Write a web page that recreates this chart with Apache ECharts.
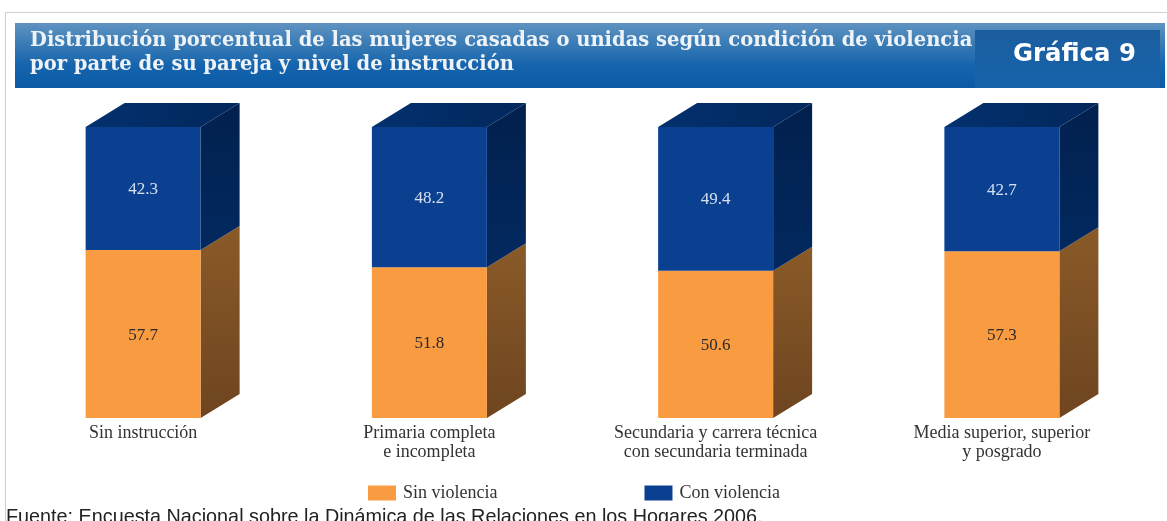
<!DOCTYPE html>
<html>
<head>
<meta charset="utf-8">
<style>html,body{margin:0;padding:0;background:#fff;overflow:hidden}#c{width:1167px;height:521px}</style>
<script src="https://cdn.jsdelivr.net/npm/echarts@6/dist/echarts.min.js"></script>
</head>
<body>
<div id="c"></div>
<script>
const categories = ['Sin instrucción', 'Primaria completa\ne incompleta', 'Secundaria y carrera técnica\ncon secundaria terminada', 'Media superior, superior\ny posgrado'];
const sinViolencia = [57.7, 51.8, 50.6, 57.3];
const conViolencia = [42.3, 48.2, 49.4, 42.7];
const titleText = 'Distribución porcentual de las mujeres casadas o unidas según condición de violencia\npor parte de su pareja y nivel de instrucción';
const badgeText = 'Gráfica 9';
const sourceText = 'Fuente: Encuesta Nacional sobre la Dinámica de las Relaciones en los Hogares 2006.';

const DX = 39, DY = -24, BAR_W = 115;
const SERIF = '"Liberation Serif", serif';

function grad(x1, y1, x2, y2, a, b) {
  return new echarts.graphic.LinearGradient(x1, y1, x2, y2, [{offset: 0, color: a}, {offset: 1, color: b}]);
}
function box(baseOf, front, side, top, labelColor) {
  return function (params, api) {
    const i = api.value(0), v = api.value(1), base = baseOf[i];
    const p0 = api.coord([i, base]), p1 = api.coord([i, base + v]);
    const x = p0[0] - BAR_W / 2, w = BAR_W, yB = p0[1], yT = p1[1];
    const children = [
      {type: 'polygon', shape: {points: [[x + w, yB], [x + w + DX, yB + DY], [x + w + DX, yT + DY], [x + w, yT]]}, style: {fill: side}},
      {type: 'rect', shape: {x, y: yT, width: w, height: yB - yT}, style: {fill: front}},
      {type: 'text', style: {x: x + w / 2, y: (yT + yB) / 2 + 1, text: v.toFixed(1), fill: labelColor, font: '17px ' + SERIF, align: 'center', verticalAlign: 'middle'}}
    ];
    if (top) children.push({type: 'polygon', shape: {points: [[x, yT], [x + DX, yT + DY], [x + w + DX, yT + DY], [x + w, yT]]}, style: {fill: top}});
    return {type: 'group', children};
  };
}

const zeros = categories.map(() => 0);
const chart = echarts.init(document.getElementById('c'), null, {renderer: 'canvas'});
chart.setOption({
  animation: false,
  backgroundColor: '#fff',
  title: [
    {text: titleText, left: 25, top: 24, textStyle: {fontFamily: '"DejaVu Serif", serif', fontWeight: 'bold', fontSize: 19.52, lineHeight: 24, color: '#eef3f8'}},
    {text: badgeText, left: 1008, top: 38, textStyle: {fontFamily: '"DejaVu Sans", sans-serif', fontWeight: 'bold', fontSize: 24.4, color: '#ffffff'}},
    {text: sourceText, left: 1, top: 503, textStyle: {fontFamily: '"Liberation Sans", sans-serif', fontWeight: 'normal', fontSize: 19.8, color: '#222222'}}
  ],
  legend: {
    left: 363, top: 479, itemWidth: 28, itemHeight: 15, itemGap: 147,
    icon: 'rect', selectedMode: false,
    textStyle: {fontFamily: SERIF, fontSize: 18, color: '#333', padding: [3, 0, 0, 2]},
    data: [
      {name: 'Sin violencia', itemStyle: {color: '#F99B40'}},
      {name: 'Con violencia', itemStyle: {color: '#0B3F8F'}}
    ]
  },
  grid: {left: 0, top: 127, width: 1145, height: 291},
  xAxis: {
    type: 'category', data: categories,
    axisLine: {show: false}, axisTick: {show: false},
    axisLabel: {interval: 0, margin: 6, fontFamily: SERIF, fontSize: 18, lineHeight: 19, color: '#333'}
  },
  yAxis: {type: 'value', min: 0, max: 100, show: false},
  graphic: [
    {type: 'rect', z: -10, shape: {x: 5.5, y: 12.5, width: 1170, height: 520}, style: {fill: '#fff', stroke: '#cfcfd4', lineWidth: 1}},
    {type: 'rect', z: -9, shape: {x: 15, y: 23, width: 1150, height: 65},
      style: {fill: new echarts.graphic.LinearGradient(0, 0, 0, 1, [
        {offset: 0, color: '#5f93c1'}, {offset: 0.3, color: '#3c7db6'}, {offset: 0.65, color: '#1664ad'}, {offset: 1, color: '#0a5aa6'}
      ])}},
    {type: 'rect', z: -8, shape: {x: 975, y: 30, width: 185, height: 58},
      style: {fill: grad(0, 0, 0, 1, '#1b5e9f', '#1763ab')}}
  ],
  series: [
    {name: 'Sin violencia', type: 'custom', coordinateSystem: 'cartesian2d', data: sinViolencia.map((v, i) => [i, v]), encode: {x: 0, y: 1},
      renderItem: box(zeros, '#F99B40', grad(0, 0, 0, 1, '#8A5A28', '#6E4520'), null, '#2a2a2a')},
    {name: 'Con violencia', type: 'custom', coordinateSystem: 'cartesian2d', data: conViolencia.map((v, i) => [i, v]), encode: {x: 0, y: 1},
      renderItem: box(sinViolencia, '#0B3F8F', grad(0, 0, 0, 1, '#02204E', '#02295F'), grad(0, 0, 1, 0, '#03306E', '#02285C'), '#d5e0ee')}
  ]
});
</script>
</body>
</html>
